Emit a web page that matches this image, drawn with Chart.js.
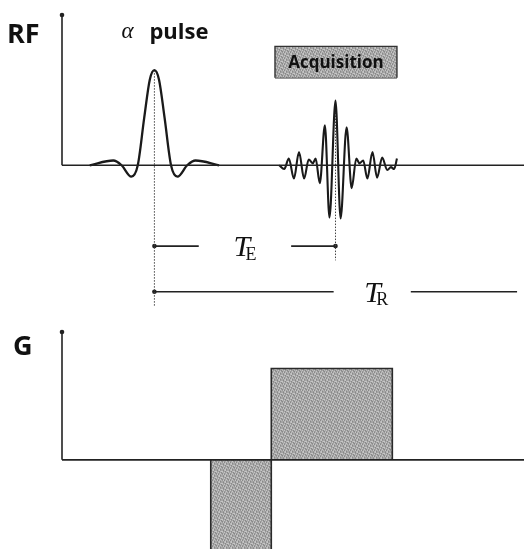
<!DOCTYPE html>
<html>
<head>
<meta charset="utf-8">
<title>Gradient echo sequence</title>
<script src="https://cdn.jsdelivr.net/npm/chart.js@4.4.0/dist/chart.umd.min.js"></script>
<style>
html, body { margin: 0; padding: 0; background: #fff; }
#wrap { position: relative; width: 528px; height: 549px; overflow: hidden; }
#rf { position: absolute; left: 0; top: 0; }
#g  { position: absolute; left: 0; top: 320px; }
</style>
</head>
<body>
<div id="wrap">
  <canvas id="rf" width="528" height="320"></canvas>
  <canvas id="g" width="528" height="240"></canvas>
</div>
<script>
// time runs 0..100 (arbitrary units), RF amplitude normalised to the alpha pulse peak
const pulseT = [6.0, 11.1, 12.9, 15.0, 16.4, 17.8, 19.0, 20.0, 21.0, 22.2, 23.6, 25.0, 27.1, 28.9, 34.0];
const pulseA = [0, 0.05, 0, -0.12, 0, 0.5, 0.9, 1.0, 0.9, 0.5, 0, -0.12, 0, 0.05, 0];

const echoT = [47.0, 48.1, 49.1, 50.2, 51.3, 52.4, 53.4, 54.3, 54.9, 55.8, 56.9, 57.9, 59.2,
               60.3, 61.6, 62.7, 63.7, 64.4, 65.2, 66.1, 67.2, 68.2, 69.3, 70.4, 71.2, 71.9, 72.5];
const echoA = [0, -0.04, 0.07, -0.14, 0.14, -0.14, 0.06, 0.02, 0.07, -0.19, 0.42, -0.55, 0.68,
               -0.56, 0.40, -0.24, 0.07, 0.02, 0.05, -0.14, 0.14, -0.13, 0.08, -0.05, -0.02, -0.04, 0.07];

const pulseCentre = 20.0;
const echoCentre = 59.2;
const trEnd = 98.5;

// acquisition window (time span, amplitude span of the label box)
const acqT = [46.1, 72.5];
const acqA = [0.92, 1.25];

// readout gradient: prephase lobe then readout lobe
const gradT = [32.2, 45.3, 71.5];
const gradA = [-1.0, 1.0];

const INK = "#222";
const TEXT = "#111";

function xy(ts, as) {
    return ts.map((t, i) => ({ x: t, y: as[i] }));
}

// grey stipple like the printed screen tone
function stipple() {
    const c = document.createElement("canvas");
    c.width = 6; c.height = 6;
    const g = c.getContext("2d");
    const tones = ["#a6a6a6", "#888888", "#c6c6c6", "#989898", "#b6b6b6"];
    const cells = [
        0, 1, 4, 2, 3, 0,
        2, 3, 0, 1, 4, 2,
        4, 0, 2, 3, 0, 1,
        1, 4, 3, 0, 2, 3,
        3, 2, 1, 4, 0, 4,
        0, 3, 4, 2, 1, 0,
    ];
    cells.forEach((k, i) => {
        g.fillStyle = tones[k];
        g.fillRect(i % 6, Math.floor(i / 6), 1, 1);
    });
    return g.createPattern(c, "repeat");
}

function plainLine(data, extra) {
    return Object.assign({
        data,
        borderColor: INK,
        borderWidth: 1.6,
        pointRadius: 0,
        tension: 0,
        fill: false,
    }, extra || {});
}

// dot only on chosen ends
function endDots(idx) {
    return {
        pointRadius: (c) => idx.includes(c.dataIndex) ? 2.3 : 0,
        pointBackgroundColor: INK,
        pointBorderWidth: 0,
    };
}

// italic symbol with roman subscript, centred on (cx, cy)
function symbolSub(ctx, main, sub, cx, cy) {
    ctx.font = 'italic 30px "Liberation Serif"';
    const wMain = ctx.measureText(main).width;
    ctx.font = '18px "Liberation Serif"';
    const wSub = ctx.measureText(sub).width;
    const shift = wMain * 0.72;
    const left = cx - (shift + wSub) / 2;
    const base = cy + 10;
    ctx.font = 'italic 30px "Liberation Serif"';
    ctx.fillText(main, left, base);
    ctx.font = '18px "Liberation Serif"';
    ctx.fillText(sub, left + shift, base + 3.5);
}

const baseOptions = (yMin, yMax, pad) => ({
    responsive: false,
    animation: false,
    events: [],
    layout: { padding: pad },
    plugins: { legend: { display: false }, tooltip: { enabled: false } },
    datasets: { line: { clip: false } },
    scales: {
        x: { type: "linear", min: 0, max: 100, display: false },
        y: { type: "linear", min: yMin, max: yMax, display: false },
    },
});

function buildRF(pattern) {
    const teMid = (pulseCentre + echoCentre) / 2;
    const teGap = 10;
    const trLabel = 68.0;
    const teLevel = -0.85;
    const trLevel = -1.33;

    const textPlugin = {
        id: "rfText",
        afterDatasetsDraw(chart) {
            const { ctx, scales: { x, y } } = chart;
            ctx.save();
            ctx.fillStyle = TEXT;
            ctx.textBaseline = "alphabetic";
            ctx.textAlign = "left";

            ctx.font = 'bold 27px "Open Sans"';
            ctx.fillText("RF", 7, 43);

            const px = x.getPixelForValue(pulseCentre);
            ctx.font = 'italic 23px "Liberation Serif"';
            ctx.fillText("\u03b1", px - 33, 38);
            ctx.font = 'bold 22px "Open Sans"';
            ctx.fillText("pulse", px - 5, 39);

            ctx.textAlign = "center";
            ctx.font = 'bold 17px "Open Sans"';
            ctx.fillText("Acquisition",
                x.getPixelForValue((acqT[0] + acqT[1]) / 2),
                y.getPixelForValue((acqA[0] + acqA[1]) / 2) + 6);

            ctx.textAlign = "left";
            symbolSub(ctx, "T", "E", x.getPixelForValue(teMid), y.getPixelForValue(teLevel));
            symbolSub(ctx, "T", "R", x.getPixelForValue(trLabel), y.getPixelForValue(trLevel));
            ctx.restore();
        }
    };

    const datasets = [
        plainLine([{ x: 0, y: 0 }, { x: 100, y: 0 }]),
        plainLine([{ x: 0, y: 0 }, { x: 0, y: 1.58 }], endDots([1])),
        plainLine(xy(pulseT, pulseA), { borderWidth: 2.3, borderColor: "#1a1a1a", cubicInterpolationMode: "monotone" }),
        plainLine(xy(echoT, echoA), { borderWidth: 2.1, borderColor: "#1a1a1a", cubicInterpolationMode: "monotone" }),
        plainLine([{ x: pulseCentre, y: 1.0 }, { x: pulseCentre, y: -1.48 }], { borderWidth: 1, borderDash: [1.5, 1.5], borderColor: "#444" }),
        plainLine([{ x: echoCentre, y: 0.68 }, { x: echoCentre, y: -1.0 }], { borderWidth: 1, borderDash: [1.5, 1.5], borderColor: "#444" }),
        plainLine([{ x: pulseCentre, y: teLevel }, { x: teMid - teGap, y: teLevel }], endDots([0])),
        plainLine([{ x: teMid + teGap, y: teLevel }, { x: echoCentre, y: teLevel }], endDots([1])),
        plainLine([{ x: pulseCentre, y: trLevel }, { x: 58.8, y: trLevel }], endDots([0])),
        plainLine([{ x: 75.5, y: trLevel }, { x: trEnd, y: trLevel }]),
        plainLine([
            { x: acqT[0], y: acqA[0] }, { x: acqT[0], y: acqA[1] },
            { x: acqT[1], y: acqA[1] }, { x: acqT[1], y: acqA[0] }
        ], { fill: { value: acqA[0] }, backgroundColor: pattern, borderColor: "#333", borderWidth: 1.4 }),
        plainLine([{ x: acqT[0], y: acqA[0] }, { x: acqT[1], y: acqA[0] }], { borderColor: "#333", borderWidth: 1.4 }),
    ];

    new Chart(document.getElementById("rf"), {
        type: "line",
        data: { datasets },
        options: baseOptions(-1.48, 1.58, { left: 62, right: 0, top: 15, bottom: 14 }),
        plugins: [textPlugin],
    });
}

function buildG(pattern) {
    const textPlugin = {
        id: "gText",
        afterDatasetsDraw(chart) {
            const { ctx } = chart;
            ctx.save();
            ctx.fillStyle = TEXT;
            ctx.textBaseline = "alphabetic";
            ctx.font = 'bold 27px "Open Sans"';
            ctx.fillText("G", 13, 35);
            ctx.restore();
        }
    };

    const lobe = (t0, t1, a) => [{ x: t0, y: 0 }, { x: t0, y: a }, { x: t1, y: a }, { x: t1, y: 0 }];

    const datasets = [
        plainLine([{ x: 0, y: 0 }, { x: 100, y: 0 }]),
        plainLine([{ x: 0, y: 0 }, { x: 0, y: 1.4 }], endDots([1])),
        plainLine(lobe(gradT[0], gradT[1], gradA[0]), { fill: "origin", backgroundColor: pattern, borderColor: "#2a2a2a" }),
        plainLine(lobe(gradT[1], gradT[2], gradA[1]), { fill: "origin", backgroundColor: pattern, borderColor: "#2a2a2a" }),
    ];

    // canvas runs a little past the page bottom so the prephase lobe is cut off by the page edge
    new Chart(document.getElementById("g"), {
        type: "line",
        data: { datasets },
        options: baseOptions(-1.053, 1.4, { left: 62, right: 0, top: 12, bottom: 0 }),
        plugins: [textPlugin],
    });
}

const fontsReady = document.fonts
    ? Promise.all([
        document.fonts.load('bold 26px "Open Sans"'),
        document.fonts.load('italic 30px "Liberation Serif"'),
        document.fonts.load('18px "Liberation Serif"'),
      ]).catch(() => null)
    : Promise.resolve();

fontsReady.then(() => {
    const pattern = stipple();
    buildRF(pattern);
    buildG(pattern);
});
</script>
</body>
</html>
